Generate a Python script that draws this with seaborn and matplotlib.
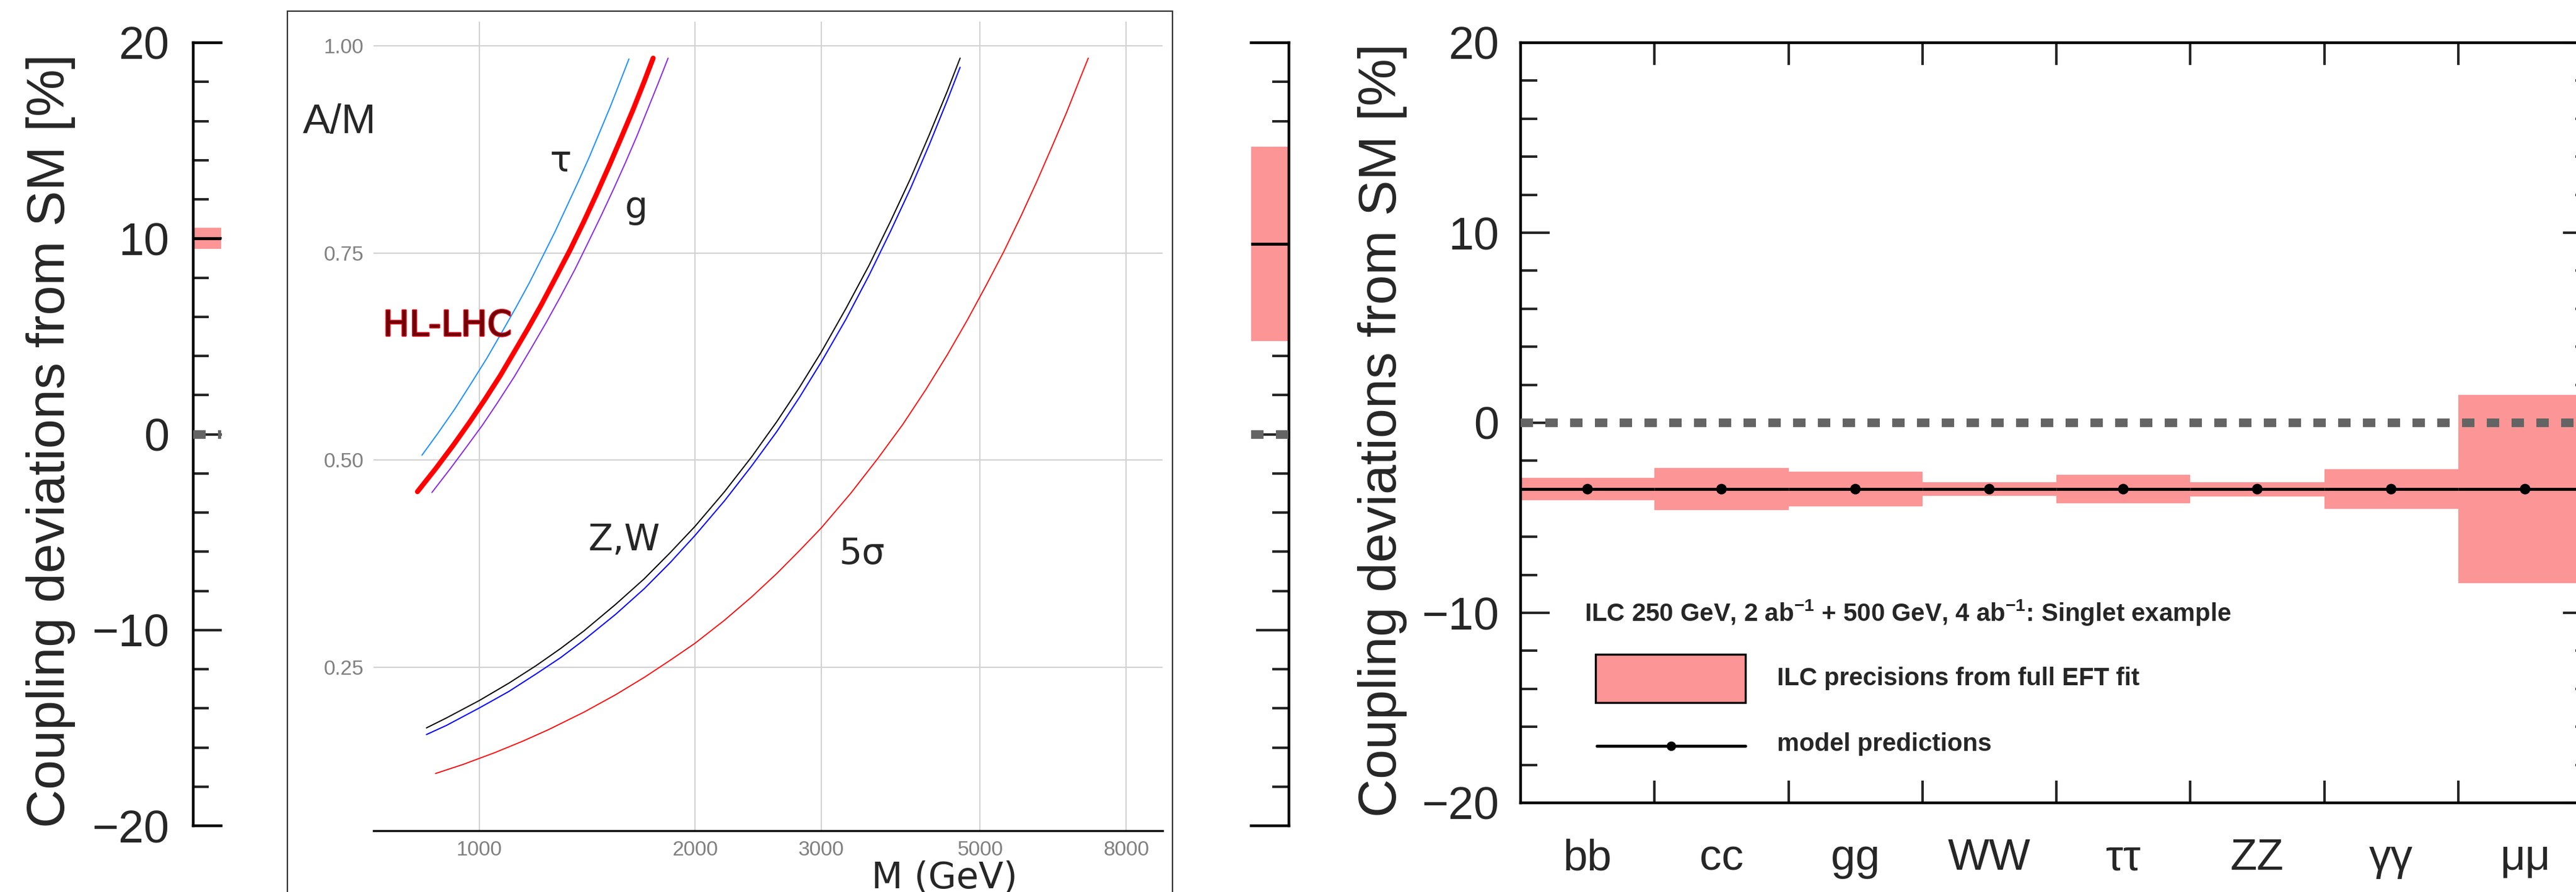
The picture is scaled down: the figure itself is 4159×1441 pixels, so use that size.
import numpy as np
import pandas as pd
import matplotlib
matplotlib.use("Agg")
import matplotlib.pyplot as plt
import seaborn as sns
from matplotlib.patches import Rectangle
from matplotlib.lines import Line2D
import matplotlib.patheffects as pe
from matplotlib.ticker import FixedLocator, MultipleLocator, NullLocator, FixedFormatter

# ---------------- data: right panel (ILC singlet example) ----------------
categories = ['bb', 'cc', 'gg', 'WW', 'ττ', 'ZZ', 'γγ', 'μμ']
band_high = [-2.90, -2.38, -2.57, -3.13, -2.74, -3.13, -2.44, 1.47]
band_low = [-4.07, -4.59, -4.40, -3.85, -4.24, -3.87, -4.53, -8.44]
model_pred = [-3.49, -3.49, -3.49, -3.49, -3.49, -3.49, -3.49, -3.49]

# partial panels (edges of neighbouring figures)
left_band_high = [10.55]
left_band_low = [9.47]
left_pred = [10.0]
edge_band_high = [14.68]
edge_band_low = [4.75]
edge_pred = [9.72]

y_major = [-20, -10, 0, 10, 20]

# ---------------- data: middle panel (A/M vs M) ----------------
tau_M = [832, 875, 925, 975, 1025, 1075, 1125, 1175, 1225, 1275, 1325, 1375,
         1425, 1475, 1525, 1575, 1618]
tau_AM = [0.506, 0.532, 0.562, 0.593, 0.623, 0.654, 0.684, 0.714, 0.745, 0.775,
          0.806, 0.836, 0.866, 0.897, 0.927, 0.958, 0.984]
hl_M = [820, 870, 920, 970, 1020, 1070, 1120, 1170, 1220, 1280, 1340, 1400,
        1460, 1520, 1580, 1640, 1700, 1749]
hl_AM = [0.462, 0.490, 0.518, 0.546, 0.574, 0.602, 0.631, 0.659, 0.687, 0.721,
         0.754, 0.788, 0.822, 0.856, 0.890, 0.923, 0.957, 0.985]
g_M = [859, 910, 960, 1010, 1060, 1120, 1180, 1240, 1300, 1360, 1420, 1480,
       1540, 1600, 1660, 1720, 1780, 1835]
g_AM = [0.461, 0.489, 0.516, 0.542, 0.569, 0.601, 0.634, 0.666, 0.698, 0.730,
        0.763, 0.795, 0.827, 0.859, 0.891, 0.924, 0.956, 0.985]
zw_M = [844, 900, 1000, 1100, 1200, 1300, 1400, 1550, 1700, 1850, 2000, 2200,
        2400, 2600, 2800, 3000, 3250, 3500, 3750, 4000, 4250, 4500, 4690]
zw_AM = [0.177, 0.189, 0.210, 0.231, 0.252, 0.273, 0.294, 0.326, 0.357, 0.389,
         0.420, 0.462, 0.504, 0.546, 0.588, 0.630, 0.683, 0.735, 0.788, 0.840,
         0.893, 0.945, 0.985]
zw2_AM = [0.169, 0.180, 0.201, 0.221, 0.242, 0.262, 0.283, 0.314, 0.345, 0.377,
          0.409, 0.451, 0.493, 0.534, 0.576, 0.618, 0.670, 0.723, 0.776, 0.828,
          0.881, 0.934, 0.974]
s5_M = [869, 950, 1050, 1150, 1250, 1400, 1550, 1700, 1850, 2000, 2200, 2400,
        2600, 2800, 3000, 3300, 3600, 3900, 4200, 4500, 4800, 5100, 5400, 5700,
        6000, 6300, 6600, 6900, 7080]
s5_AM = [0.122, 0.133, 0.147, 0.161, 0.175, 0.196, 0.217, 0.238, 0.259, 0.279,
         0.307, 0.335, 0.363, 0.391, 0.418, 0.460, 0.502, 0.543, 0.585, 0.627,
         0.669, 0.711, 0.752, 0.794, 0.836, 0.878, 0.919, 0.961, 0.985]
m_ticks = [1000, 2000, 3000, 5000, 8000]
m_ticklabels = ['1000', '2000', '3000', '5000', '8000']
am_ticks = [0.25, 0.50, 0.75, 1.00]
am_ticklabels = ['0.25', '0.50', '0.75', '1.00']

# ---------------- style ----------------
sns.set_style("white")
plt.rcParams['font.family'] = ['Liberation Sans', 'DejaVu Sans']
plt.rcParams['mathtext.fontset'] = 'custom'
plt.rcParams['mathtext.rm'] = 'Liberation Sans'
plt.rcParams['mathtext.bf'] = 'Liberation Sans:bold'
plt.rcParams['axes.unicode_minus'] = True

W, H = 4159, 1441
fig = plt.figure(figsize=(W / 100, H / 100), dpi=100)
fig.patch.set_facecolor('white')


def box(x0, y0, x1, y1):
    return [x0 / W, 1 - y1 / H, (x1 - x0) / W, (y1 - y0) / H]


PINK = '#FC9596'
GRAY = '#646464'
SPW = 3.2
TICKW = 2.9
TICKFS = 53
DASH = (1.44, 1.44)


def style_frame(ax):
    for s in ax.spines.values():
        s.set_linewidth(SPW)
        s.set_color('black')
    ax.set_facecolor('none')
    ax.set_ylim(-20, 20)
    ax.yaxis.set_major_locator(FixedLocator(y_major))
    ax.yaxis.set_minor_locator(MultipleLocator(2))
    ax.xaxis.set_minor_locator(NullLocator())


# ================= right panel =================
ax = fig.add_axes(box(2455, 69, 4185, 1297))
style_frame(ax)
n = len(categories)
xs = np.arange(n)
ax.bar(xs, np.array(band_high) - np.array(band_low), bottom=band_low, width=1.0,
       align='edge', color=PINK, linewidth=0, zorder=1)
ax.axhline(0, color=GRAY, lw=10, dashes=DASH, zorder=3)
ax.hlines(model_pred, xs, xs + 1, colors='black', lw=3.4, zorder=4)
sns.scatterplot(x=xs + 0.5, y=model_pred, ax=ax, color='black', s=150,
                edgecolor='none', zorder=5, legend=False)
ax.set_xlim(0, n)
ax.set_xticks(np.arange(1, n))
ax.set_xticklabels([])
ax.tick_params(axis='x', which='major', direction='in', top=True, bottom=True,
               length=26, width=TICKW)
ax.tick_params(axis='y', which='both', direction='in', left=True, right=True,
               labelleft=True, labelright=False, width=TICKW)
ax.tick_params(axis='y', which='major', length=34, pad=25, labelsize=TICKFS)
ax.tick_params(axis='y', which='minor', length=19.4)
ax.set_xlabel('')
ax.set_ylabel('')
for i, c in enumerate(categories):
    ax.text(i + 0.5, (1297 - 1405) / 1228, c, transform=ax.get_xaxis_transform(),
            ha='center', va='baseline', fontsize=51)

# legend block
def fx(px):
    return (px - 2455) / 1730


def fy(py):
    return (1297 - py) / 1228


ax.text(fx(2558), fy(1003),
        r'ILC 250 GeV, 2 ab$^{\mathbf{-1}}$ + 500 GeV, 4 ab$^{\mathbf{-1}}$: Singlet example',
        transform=ax.transAxes, ha='left', va='baseline', fontsize=29, fontweight='bold')
ax.add_patch(Rectangle((fx(2576), fy(1135)), fx(2818) - fx(2576), fy(1057) - fy(1135),
                       transform=ax.transAxes, facecolor=PINK, edgecolor='black',
                       lw=2.4, zorder=6))
ax.text(fx(2869), fy(1107), 'ILC precisions from full EFT fit', transform=ax.transAxes,
        ha='left', va='baseline', fontsize=29, fontweight='bold')
ax.add_line(Line2D([fx(2578), fx(2818)], [fy(1205), fy(1205)], transform=ax.transAxes,
                   color='black', lw=3.4, zorder=6))
ax.add_line(Line2D([fx(2698)], [fy(1205)], transform=ax.transAxes, color='black',
                   marker='o', markersize=11, markeredgewidth=0, zorder=7))
ax.text(fx(2869), fy(1213), 'model predictions', transform=ax.transAxes,
        ha='left', va='baseline', fontsize=29, fontweight='bold')

fig.text(2232 / W, 1 - 695 / H, 'Coupling deviations from SM [%]', rotation=90,
         ha='center', va='center', fontsize=62)

# ================= left partial panel =================
axL = fig.add_axes(box(312, 69, 357, 1334))
style_frame(axL)
axL.spines['right'].set_visible(False)
axL.bar([0], np.array(left_band_high) - np.array(left_band_low), bottom=left_band_low,
        width=1.0, align='edge', color=PINK, linewidth=0, zorder=1)
axL.hlines(left_pred, [0], [1], colors='black', lw=3.4, zorder=4)
axL.axhline(0, color=GRAY, lw=10, dashes=DASH, zorder=3)
axL.set_xlim(0, 45 / 216.25)
axL.set_xticks([])
axL.tick_params(axis='y', which='both', direction='in', left=True, right=False,
                labelleft=True, width=TICKW)
axL.tick_params(axis='y', which='major', length=33, pad=28, labelsize=TICKFS)
axL.tick_params(axis='y', which='minor', length=18)
fig.text(82 / W, 1 - 712 / H, 'Coupling deviations from SM [%]', rotation=90,
         ha='center', va='center', fontsize=62)

# ================= right edge of a neighbouring panel =================
axE = fig.add_axes(box(2020, 69, 2081, 1334))
style_frame(axE)
axE.spines['left'].set_visible(False)
axE.bar([7], np.array(edge_band_high) - np.array(edge_band_low), bottom=edge_band_low,
        width=1.0, align='edge', color=PINK, linewidth=0, zorder=1)
axE.hlines(edge_pred, [7], [8], colors='black', lw=3.4, zorder=4)
axE.axhline(0, color=GRAY, lw=10, dashes=DASH, zorder=3)
axE.set_xlim(8 - 61 / 216.25, 8)
axE.set_xticks([])
axE.tick_params(axis='y', which='both', direction='in', left=False, right=True,
                labelleft=False, labelright=False, width=TICKW)
axE.tick_params(axis='y', which='major', length=38)
axE.tick_params(axis='y', which='minor', length=19.4)

# ================= middle panel =================
fig.patches.append(Rectangle((464 / W, -0.02), (1893 - 464) / W, 1 - 18 / H + 0.02,
                             transform=fig.transFigure, fill=False,
                             edgecolor='#333333', lw=1.6, zorder=0))
axM = fig.add_axes(box(603, 35, 1877, 1342))
axM.set_facecolor('none')
axM.set_xscale('log')
axM.set_xlim(712, 8990)
axM.set_ylim(0.053, 1.029)
for s in ['left', 'right', 'top']:
    axM.spines[s].set_visible(False)
axM.spines['bottom'].set_color('black')
axM.spines['bottom'].set_linewidth(2.4)
axM.xaxis.set_major_locator(FixedLocator(m_ticks))
axM.xaxis.set_major_formatter(FixedFormatter(m_ticklabels))
axM.xaxis.set_minor_locator(NullLocator())
axM.yaxis.set_major_locator(FixedLocator(am_ticks))
axM.yaxis.set_major_formatter(FixedFormatter(am_ticklabels))
axM.tick_params(axis='both', length=0, labelsize=24, labelcolor='#808080', pad=11.5)
axM.grid(True, which='major', color='#D2D2D2', lw=1.5)
axM.set_axisbelow(True)

curves = [
    (tau_M, tau_AM, '#1E90FF', 1.4),
    (g_M, g_AM, '#8A2BE2', 1.4),
    (hl_M, hl_AM, '#FF0000', 5.8),
    (zw_M, zw2_AM, '#0000FF', 1.4),
    (zw_M, zw_AM, '#000000', 1.4),
    (s5_M, s5_AM, '#FF0000', 1.3),
]
for mx, my, col, lw in curves:
    sns.lineplot(x=mx, y=my, ax=axM, color=col, lw=lw, legend=False, sort=True,
                 estimator=None)
axM.set_xlabel('')
axM.set_ylabel('')

dj = ['DejaVu Sans']
axM.text(1298, 0.848, 'τ', ha='center', va='baseline', fontsize=42, family=dj)
axM.text(1655, 0.792, 'g', ha='center', va='baseline', fontsize=42, family=dj)
axM.text(1594, 0.391, 'Z,W', ha='center', va='baseline', fontsize=42, family=dj)
axM.text(3418, 0.375, '5σ', ha='center', va='baseline', fontsize=42, family=dj)
axM.text(903, 0.650, 'HL-LHC', ha='center', va='baseline', fontsize=41, family=dj,
         color='#700008',
         path_effects=[pe.withStroke(linewidth=2, foreground='#D8101C')])
fig.text(548 / W, 1 - 215 / H, 'A/M', ha='center', va='baseline', fontsize=48)
fig.text(1525 / W, 1 - 1434 / H, 'M (GeV)', ha='center', va='baseline', fontsize=42,
         family=dj)

fig.savefig('out.png', dpi=100, facecolor='white')
